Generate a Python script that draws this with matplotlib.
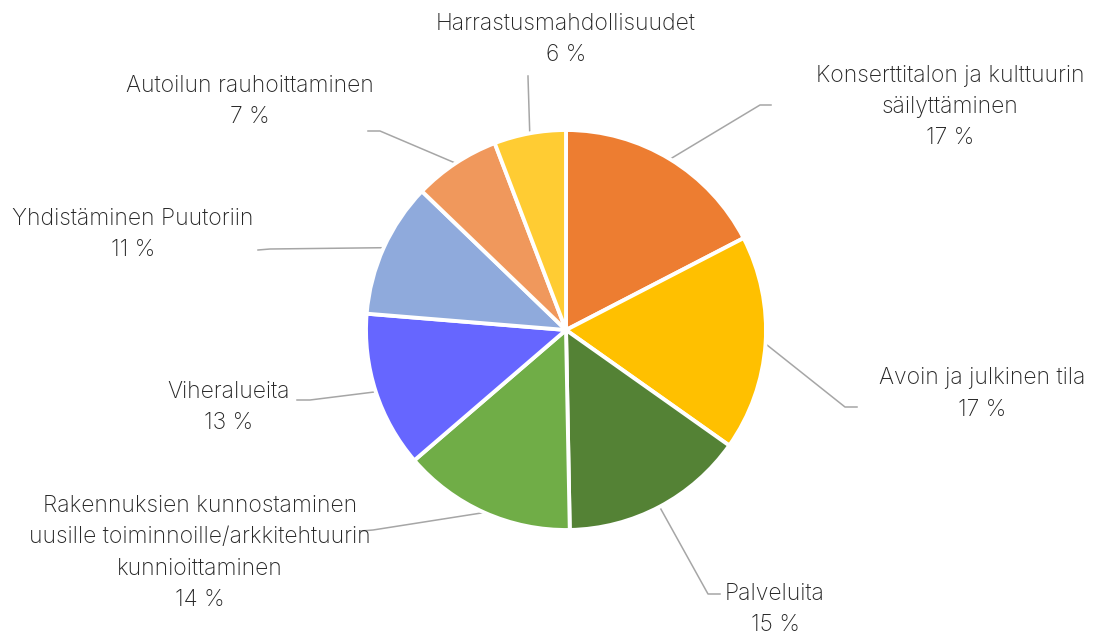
import numpy as np
import matplotlib.pyplot as plt

plt.rcParams['font.family'] = ['Inter', 'DejaVu Sans']

# data (share of answers, %), clockwise from 12 o'clock
categories = [
    "Konserttitalon ja kulttuurin\nsäilyttäminen",
    "Avoin ja julkinen tila",
    "Palveluita",
    "Rakennuksien kunnostaminen\nuusille toiminnoille/arkkitehtuurin\nkunnioittaminen",
    "Viheralueita",
    "Yhdistäminen Puutoriin",
    "Autoilun rauhoittaminen",
    "Harrastusmahdollisuudet",
]
values = [17.4, 17.4, 14.9, 14.0, 12.6, 10.9, 7.0, 5.8]
colors = ["#ED7D31", "#FFC000", "#548235", "#70AD47",
          "#6666FF", "#8FAADC", "#F0985C", "#FFCC33"]

W, H = 1095, 636
# label layout in pixel coords (y from top): text centre, leader elbow, leader end
text_pos = [(950, 107), (982, 394), (775, 609), (200, 553),
            (229, 407), (133, 234), (250, 101), (566, 39)]
elbows = [(760, 105), (845, 407), (708, 594), (373, 530),
          (310, 400), (270, 249), (380, 131), (528, 77)]
ends = [(771, 105), (857, 407), (720, 594), (361, 531),
        (297, 400), (258, 250), (368, 131), (528, 76)]

fig = plt.figure(figsize=(W / 100, H / 100), dpi=100)
ax = fig.add_axes([0, 0, 1, 1])

cx, cy, r = 566, H - 330, 200
wedges, _ = ax.pie(values, colors=colors, startangle=90, counterclock=False,
                   radius=r, center=(cx, cy), frame=True,
                   wedgeprops=dict(edgecolor="white", linewidth=2.8))
ax.set_xlim(0, W)
ax.set_ylim(0, H)
ax.axis("off")

for w, lab, v, tp, el, en in zip(wedges, categories, values, text_pos, elbows, ends):
    mid = np.deg2rad((w.theta1 + w.theta2) / 2)
    sx, sy = cx + r * np.cos(mid), cy + r * np.sin(mid)
    ax.plot([sx, el[0], en[0]], [sy, H - el[1], H - en[1]],
            color="#A6A6A6", lw=1.1, zorder=0)
    ax.text(tp[0], H - tp[1], f"{lab}\n{round(v)} %", ha="center", va="center",
            fontsize=16.5, fontweight="light", color="#262626", linespacing=1.55)

fig.savefig("out.png", dpi=100)
